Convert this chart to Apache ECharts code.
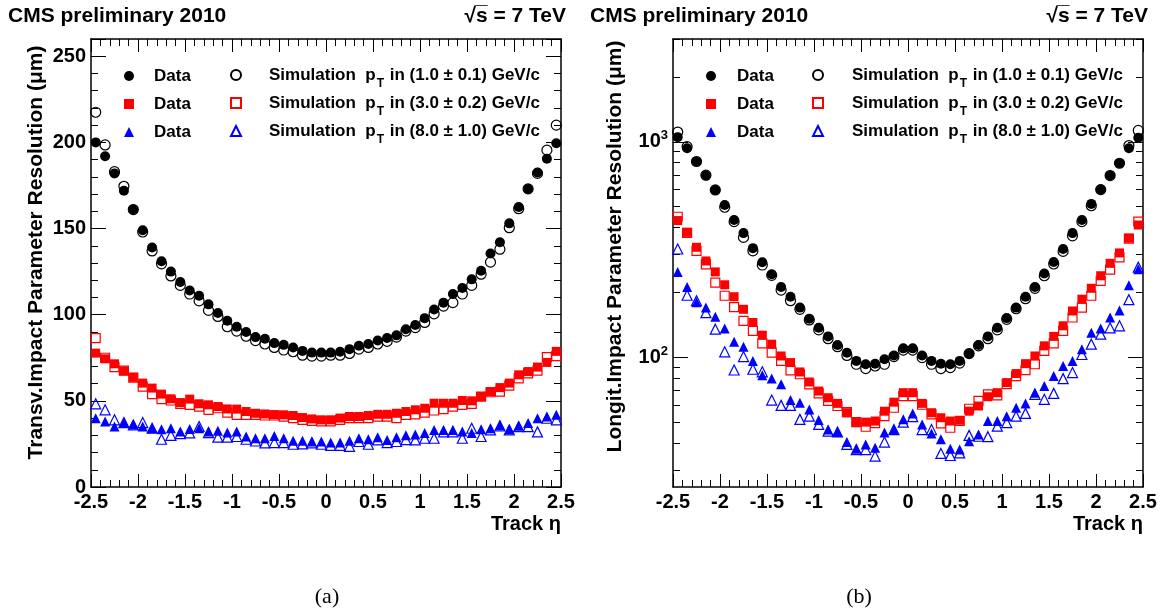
<!DOCTYPE html>
<html>
<head>
<meta charset="utf-8">
<script src="https://cdn.jsdelivr.net/npm/echarts@6/dist/echarts.min.js"></script>
<style>
html, body { margin: 0; padding: 0; background: #fff; }
#chart { width: 1162px; height: 613px; }
</style>
</head>
<body>
<div id="chart"></div>
<script>
// eta bin centres
const eta = [-2.45, -2.35, -2.25, -2.15, -2.05, -1.95, -1.85, -1.75, -1.65, -1.55,
  -1.45, -1.35, -1.25, -1.15, -1.05, -0.95, -0.85, -0.75, -0.65, -0.55,
  -0.45, -0.35, -0.25, -0.15, -0.05, 0.05, 0.15, 0.25, 0.35, 0.45,
  0.55, 0.65, 0.75, 0.85, 0.95, 1.05, 1.15, 1.25, 1.35, 1.45,
  1.55, 1.65, 1.75, 1.85, 1.95, 2.05, 2.15, 2.25, 2.35, 2.45];

// (a) transverse resolution, um
const transData1 = [200, 192, 182, 172, 161, 149, 139, 131, 125, 119, 114, 111, 106, 101, 96.5, 93, 90, 87, 86, 83.5,
  82.5, 81, 79, 78, 78, 78, 78.5, 80, 82, 83, 85, 86.5, 88, 91.5, 94, 98, 103, 107, 112, 115.5,
  120.5, 125.5, 135.5, 142, 153, 162.5, 173, 182.5, 190.5, 199.5];
const transSim1 = [217.5, 198.5, 183, 174.5, 161, 148, 137, 129.5, 122.5, 117, 112, 108, 102.5, 99, 93, 90.5, 87.5, 85, 83, 81,
  79.5, 78.5, 76.5, 76, 76, 76.5, 76.5, 77.5, 80, 81, 83, 84.5, 87, 90.5, 92.5, 95.5, 100.5, 105, 107, 112,
  117, 123.5, 130.5, 138, 150.5, 161.5, 173, 182, 195.5, 210];
const transData3 = [77.7, 74.4, 71.5, 67.4, 63.6, 60.3, 57.4, 53.9, 51.2, 49, 51, 48.3, 47.7, 46.7, 45.3, 45.2, 43.8, 42.8, 42.4, 42,
  41.9, 41.5, 40.3, 39.5, 39, 39, 40, 40.9, 40.9, 41.5, 42.2, 42.2, 42.8, 43.8, 44.8, 45.7, 48.6, 48.6, 48.6, 50.2,
  50, 52.5, 55.4, 57.7, 60.3, 65.1, 67, 69.6, 72.3, 78.7];
const transSim3 = [86.4, 75, 69.6, 67.5, 63.5, 58.3, 53.9, 51, 50.2, 48.3, 47.7, 46.7, 44.8, 45.7, 43.2, 41.9, 41.9, 41.9, 41.5, 41.5,
  40.9, 40, 39, 38.4, 38.1, 38.1, 39, 40, 40, 40, 40.9, 40.9, 40, 41.9, 42.2, 43.2, 44.4, 45.2, 46.7, 47.7,
  48.3, 52.5, 55, 55.4, 58.8, 63, 66, 67.5, 75.4, 76];
const transData8 = [39.9, 38, 35.1, 37.4, 36.4, 35.1, 34.1, 33.5, 34.1, 32.2, 33.7, 34.1, 32.2, 32.6, 31.6, 32.2, 29.3, 28.3, 28.3, 29.6,
  28.3, 26.9, 26.9, 26.4, 26.4, 25.8, 25.8, 26.9, 28.3, 27.7, 28.9, 27.3, 28.9, 30, 30.4, 31.4, 33.1, 33.1, 33.1, 32.2,
  31.4, 33.5, 34.1, 36, 33.5, 35.5, 37.1, 39.9, 40.9, 41.9];
const transSim8 = [48.3, 44.8, 39, 37.4, 36, 37.4, 34.1, 27.7, 30, 31, 31.4, 35.1, 31.6, 28.9, 28.9, 29.3, 27.7, 26.7, 25.6, 25.8,
  25.8, 24.8, 25, 25.6, 24.8, 24.2, 24.2, 23.6, 26.4, 24.8, 27.3, 25.8, 26.4, 27.5, 27.3, 28.3, 28.3, 32, 32, 28.3,
  34.1, 29.3, 33.1, 35.5, 33.1, 35, 35, 32, 39.9, 39];

// (b) longitudinal resolution, um
const longData1 = [1051, 934, 810, 697, 598, 509, 434, 377, 321, 276, 243, 212, 191, 170, 151, 137, 125, 114, 105, 96.2,
  92.8, 93.4, 97.9, 102, 110, 110, 102, 96.2, 93.4, 92.8, 96.2, 104, 114, 125, 137, 152, 170, 191, 212, 245,
  277, 318, 377, 434, 515, 600, 697, 795, 934, 1044];
const longSim1 = [1110, 950, 810, 700, 598, 497, 426, 360, 312, 268, 240, 205, 183, 167, 149, 134, 122, 112, 102, 92.8,
  88.6, 91.1, 92.8, 100.8, 108, 108, 99.7, 92.8, 88.6, 89.5, 94, 104, 113, 122, 134, 150, 168, 187, 209, 239,
  271, 310, 366, 426, 505, 600, 697, 795, 961, 1129];
const longData3 = [431, 380, 324, 280, 249, 217, 191, 167, 145, 126.6, 115, 101.4, 94.5, 85.5, 76.8, 69.7, 64.9, 61.1, 55.3, 50,
  50, 50.6, 56.2, 61.9, 68.5, 68.5, 61.1, 55.3, 52.4, 50.6, 51, 56.2, 59.4, 65.6, 68.5, 76.3, 84, 93.4, 101.4, 113,
  125, 140, 164, 186, 209, 239, 273, 305, 357, 411];
const longSim3 = [449, 378, 312, 270, 222, 193, 171, 147.5, 132.5, 116, 105, 96.2, 87, 83.4, 74.9, 68, 62.7, 59.4, 55.6, 50,
  47.6, 49.5, 53.3, 58.3, 66, 66, 60.2, 54.3, 49.3, 47.1, 50.6, 57.7, 62.7, 67.3, 66.5, 75, 81.8, 87.1, 92.8, 107,
  116, 132.5, 153, 170, 193, 226, 255, 291, 355, 426];
const longData8 = [249, 212, 180, 170, 154, 136, 118, 112, 96.2, 82.5, 79.6, 74.9, 63.3, 61.5, 57.3, 51.1, 46.2, 45, 40.4, 37.6,
  39.4, 38, 44.7, 46.2, 51.5, 54.9, 48.8, 44.3, 41.6, 37.6, 37.3, 40.8, 43.8, 50.6, 50.6, 53.3, 58.3, 61.1, 68.5, 73.6,
  81.8, 91.1, 96.2, 109, 130, 136, 153, 165, 216, 256];
const longSim8 = [318, 194, 183, 161, 135, 106, 87.3, 100.8, 88, 85.6, 63.3, 59.8, 59.8, 51.5, 53.3, 48.8, 45.4, 45, 39.4, 37.3,
  37.3, 34.8, 40.4, 46.2, 50, 53, 46.2, 46.2, 35.8, 35, 36, 43.4, 43, 42.8, 47.9, 49.7, 53.3, 54.9, 67.3, 63.8,
  68, 79.6, 84.9, 103, 115, 128, 137, 140, 185, 262];

const logMajor = [100, 1000];
const logMinor = [30, 40, 50, 60, 70, 80, 90, 200, 300, 400, 500, 600, 700, 800, 900, 2000, 3000];

const legendText = {
  d1: "Data", d3: "Data", d8: "Data",
  s1: "Simulation  p{sub|T} in (1.0 ± 0.1) GeV/c",
  s3: "Simulation  p{sub|T} in (3.0 ± 0.2) GeV/c",
  s8: "Simulation  p{sub|T} in (8.0 ± 1.0) GeV/c",
};

const FONT = "Liberation Sans";
const style = {
  1: { symbol: "circle", size: 10, color: "#000" },
  3: { symbol: "rect", size: 9, color: "#ff0000" },
  8: { symbol: "triangle", size: 10, color: "#0000ff" },
};

function mk(name, vals, key, open, xi, yi) {
  const s = style[key];
  return {
    name: name,
    type: "scatter",
    xAxisIndex: xi,
    yAxisIndex: yi,
    symbol: s.symbol,
    symbolSize: s.size,
    data: eta.map((x, i) => [x, vals[i]]),
    itemStyle: open
      ? { color: "rgba(255,255,255,0)", borderColor: s.color, borderWidth: 1.2, opacity: 1 }
      : { color: s.color, opacity: 1 },
    z: open ? 2 : 3,
    emphasis: { disabled: true },
  };
}

function xAx(grid, top) {
  return {
    type: "value",
    gridIndex: grid,
    position: top ? "top" : "bottom",
    min: -2.5,
    max: 2.5,
    interval: 0.5,
    axisLine: { onZero: false, lineStyle: { color: "#000", width: 1.5 } },
    axisTick: { inside: true, length: 13, lineStyle: { color: "#000" } },
    minorTick: { show: true, splitNumber: 5, length: 7, lineStyle: { color: "#000" } },
    splitLine: { show: false },
    axisLabel: top ? { show: false } : {
      color: "#000", fontFamily: FONT, fontWeight: "bold", fontSize: 20, margin: 5,
    },
    name: top ? "" : "Track η",
    nameLocation: "end",
    nameGap: 0,
    nameTextStyle: {
      color: "#000", fontFamily: FONT, fontWeight: "bold", fontSize: 20,
      align: "right", verticalAlign: "top", padding: [27, 0, 0, 0],
    },
  };
}

function yLin(pos, minor, name) {
  return {
    type: "value",
    gridIndex: 0,
    position: pos,
    min: 0,
    max: 260,
    interval: minor ? 10 : 50,
    axisLine: { show: !minor, onZero: false, lineStyle: { color: "#000", width: 1.5 } },
    axisTick: { inside: true, length: minor ? 7 : 15, lineStyle: { color: "#000" } },
    splitLine: { show: false },
    axisLabel: (pos === "left" && !minor) ? {
      color: "#000", fontFamily: FONT, fontWeight: "bold", fontSize: 20, margin: 5,
      formatter: (v) => (v % 50 === 0 ? String(v) : ""),
    } : { show: false },
    name: name || "",
    nameLocation: "middle",
    nameRotate: 90,
    nameGap: 44,
    nameTextStyle: {
      color: "#000", fontFamily: FONT, fontWeight: "bold", fontSize: 21, padding: [0, 0, 0, 21],
    },
  };
}

function yLog(pos, minor, name) {
  return {
    type: "log",
    logBase: 10,
    gridIndex: 1,
    position: pos,
    min: 25,
    max: 3000,
    axisLine: { show: !minor, onZero: false, lineStyle: { color: "#000", width: 1.5 } },
    axisTick: {
      inside: true, length: minor ? 7 : 15, lineStyle: { color: "#000" },
      customValues: minor ? logMinor : logMajor,
    },
    splitLine: { show: false },
    axisLabel: (pos === "left" && !minor) ? {
      customValues: logMajor,
      color: "#000", fontFamily: FONT, fontWeight: "bold", fontSize: 20, margin: 5,
      formatter: (v) => (v === 100 ? "10{sup|2}" : v === 1000 ? "10{sup|3}" : ""),
      rich: { sup: { fontFamily: FONT, fontWeight: "bold", fontSize: 13, padding: [0, 0, 12, 0] } },
    } : { show: false },
    name: name || "",
    nameLocation: "middle",
    nameRotate: 90,
    nameGap: 47,
    nameTextStyle: {
      color: "#000", fontFamily: FONT, fontWeight: "bold", fontSize: 21, padding: [0, 0, 0, 33],
    },
  };
}

function legend(names, left, pad, sim) {
  return {
    data: names,
    orient: "vertical",
    left: left,
    top: sim ? 60 : 62,
    padding: 0,
    itemGap: sim ? -2 : 0,
    itemWidth: 10,
    itemHeight: 10,
    selectedMode: false,
    formatter: (n) => legendText[n],
    textStyle: {
      color: "#000", fontFamily: FONT, fontWeight: "bold", fontSize: 17,
      lineHeight: 28, padding: [0, 0, 0, pad],
      rich: { sub: { fontFamily: FONT, fontWeight: "bold", fontSize: 12, lineHeight: 28, padding: [18, 1, 0, 1] } },
    },
  };
}

function label(text, x, y, align, font) {
  return {
    type: "text", x: x, y: y,
    style: { text: text, font: font, fill: "#000", align: align, verticalAlign: "middle" },
  };
}

const chart = echarts.init(document.getElementById("chart"));
chart.setOption({
  animation: false,
  backgroundColor: "#fff",
  grid: [
    { left: 91, top: 39, width: 470, height: 448 },
    { left: 673, top: 39, width: 470, height: 448 },
  ],
  xAxis: [xAx(0, false), xAx(0, true), xAx(1, false), xAx(1, true)],
  yAxis: [
    yLin("left", false, "Transv.Impact Parameter Resolution (μm)"),
    yLin("left", true),
    yLin("right", false),
    yLin("right", true),
    yLog("left", false, "Longit.Impact Parameter Resolution (μm)"),
    yLog("left", true),
    yLog("right", false),
    yLog("right", true),
  ],
  legend: [
    legend(["d1", "d3", "d8"], 124, 15, false),
    legend(["s1", "s3", "s8"], 230, 23, true),
    legend(["d1", "d3", "d8"], 706, 16, false),
    legend(["s1", "s3", "s8"], 812, 24, true),
  ],
  graphic: [
    label("CMS preliminary 2010", 8, 16, "left", "bold 21px " + FONT),
    label("√s\u0305 = 7 TeV", 566, 16, "right", "bold 21px " + FONT),
    label("CMS preliminary 2010", 590, 16, "left", "bold 21px " + FONT),
    label("√s\u0305 = 7 TeV", 1148, 16, "right", "bold 21px " + FONT),
    label("(a)", 327, 597, "center", "22px Liberation Serif"),
    label("(b)", 859, 597, "center", "22px Liberation Serif"),
  ],
  series: [
    mk("s1", transSim1, 1, true, 0, 0),
    mk("s3", transSim3, 3, true, 0, 0),
    mk("s8", transSim8, 8, true, 0, 0),
    mk("d1", transData1, 1, false, 0, 0),
    mk("d3", transData3, 3, false, 0, 0),
    mk("d8", transData8, 8, false, 0, 0),
    mk("s1", longSim1, 1, true, 2, 4),
    mk("s3", longSim3, 3, true, 2, 4),
    mk("s8", longSim8, 8, true, 2, 4),
    mk("d1", longData1, 1, false, 2, 4),
    mk("d3", longData3, 3, false, 2, 4),
    mk("d8", longData8, 8, false, 2, 4),
  ],
});
</script>
</body>
</html>
